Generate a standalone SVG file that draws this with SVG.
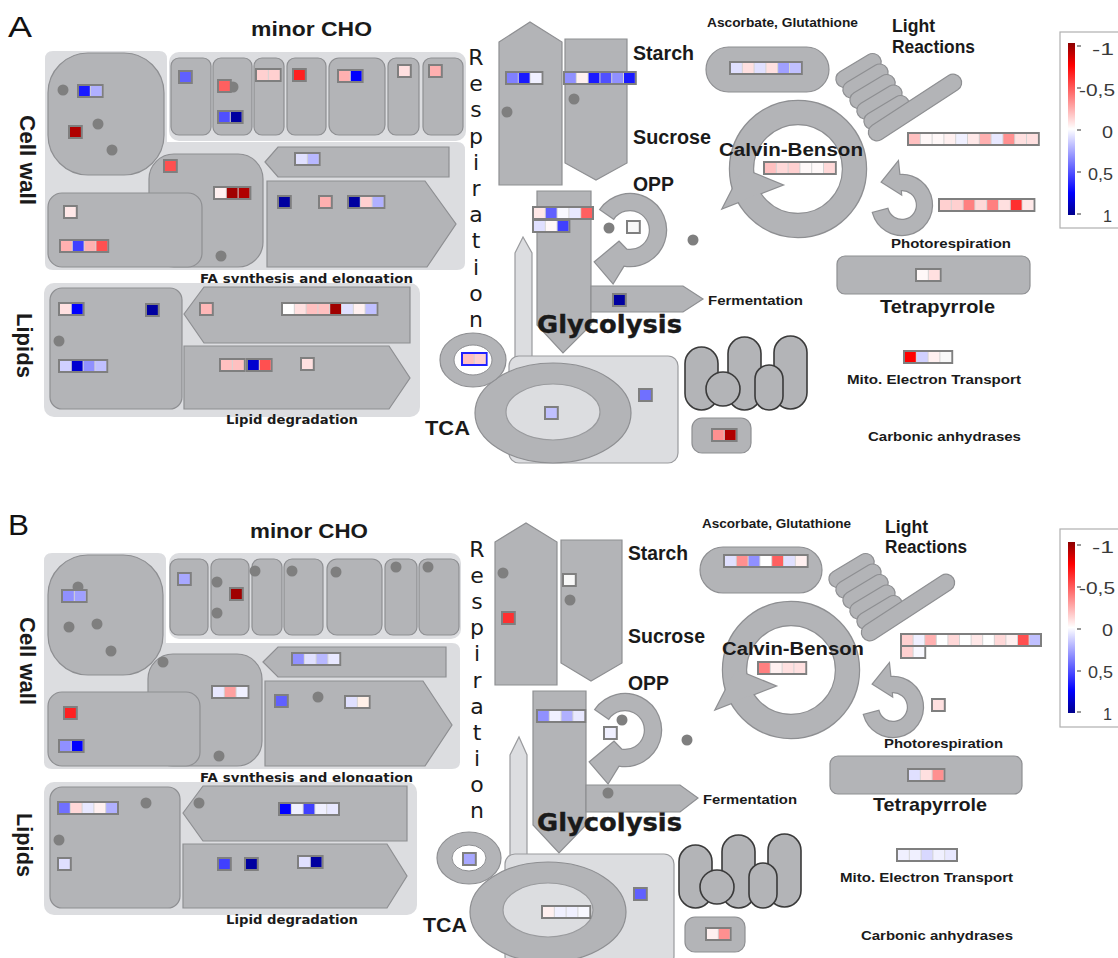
<svg xmlns="http://www.w3.org/2000/svg" xmlns:xlink="http://www.w3.org/1999/xlink" width="1118" height="958" viewBox="0 0 1118 958">
<style>
.bg{fill:#dcdde0}
.nd{fill:#b3b4b7;stroke:#8e8f92;stroke-width:1.2}
.lt{fill:#dcdde0;stroke:#9a9b9e;stroke-width:1.2}
.wh{fill:#ffffff;stroke:#8e8f92;stroke-width:1}
.dot{fill:#7f7f7f}
.mc{fill:#b3b4b7;stroke:#3a3a3a;stroke-width:1.6}
.strk{fill:#b3b4b7;stroke:#8e8f92;stroke-width:2.4}
.fl{fill:#b3b4b7;stroke:none}
.gb{fill:#7f7f7f}
.gbb{fill:#2020ff}
.gi{fill:#d4d4d4}
.t{font-family:"Liberation Sans",Arial,sans-serif;font-weight:bold;fill:#1a1a1a}
.v{font-family:"DejaVu Sans",Verdana,sans-serif;font-weight:bold;fill:#1a1a1a}
.r{font-family:"DejaVu Sans",Verdana,sans-serif;fill:#1a1a1a;font-size:22px}
.pl{font-family:"Liberation Sans",Arial,sans-serif;fill:#111;font-size:30px}
.lg{font-family:"Liberation Sans",Arial,sans-serif;fill:#3a3a3a;font-size:17px;text-anchor:end}
.tk{stroke:#555;stroke-width:1.2}
</style>
<defs>
<linearGradient id="grad" x1="0" y1="0" x2="0" y2="1">
<stop offset="0" stop-color="#8b0000"/><stop offset="0.13" stop-color="#ff0000"/><stop offset="0.5" stop-color="#ffffff"/><stop offset="0.87" stop-color="#0000ff"/><stop offset="1" stop-color="#00008b"/>
</linearGradient>
<path id="calvinRing" fill-rule="evenodd" d="M730,169 A68,68 0 1,0 866,169 A68,68 0 1,0 730,169 Z M753,169 A45,45 0 1,1 843,169 A45,45 0 1,1 753,169 Z"/>
<polygon id="calvinHead" points="723,208 743,169 782,185"/>
<path id="oppArrow" d="M600.5,209.4 A36,36 0 1,1 623.7,265.5 L613,283 L595,262 L619,242 L626.5,249.7 A20,20 0 1,0 613.6,218.5 Z"/>
<path id="prArrow" d="M873,212.8 A30,30 0 1,0 899.4,175.1 L898,162 L882,182 L901,194 L900.7,190.1 A15,15 0 1,1 887.5,208.9 Z"/>
<rect id="pill" x="-25" y="-8.5" width="50" height="17" rx="8.5"/>
<g id="coil" class="nd">
<use xlink:href="#pill" transform="translate(858.5,70.5) rotate(-31)"/>
<use xlink:href="#pill" transform="translate(865.5,81) rotate(-31)"/>
<use xlink:href="#pill" transform="translate(872.5,91.5) rotate(-31)"/>
<use xlink:href="#pill" transform="translate(879.5,102) rotate(-31)"/>
<use xlink:href="#pill" transform="translate(886.5,112.5) rotate(-31)"/>
<rect x="-54" y="-8.5" width="108" height="17" rx="8.5" transform="translate(915,107.5) rotate(-33)"/>
</g>
<g id="mito" class="mc">
<rect x="685" y="347" width="33" height="63" rx="16.5"/>
<rect x="728" y="337" width="33" height="73" rx="16.5"/>
<rect x="774" y="336" width="33" height="73" rx="16.5"/>
<circle cx="723" cy="389" r="17"/>
<rect x="755" y="365" width="28" height="45" rx="14"/>
</g>
</defs>
<rect width="1118" height="958" fill="#ffffff"/>

<!-- ================= PANEL A ================= -->
<g id="A">
<g id="A-label"><text class="pl" x="8" y="37" textLength="24" lengthAdjust="spacingAndGlyphs">A</text></g>

<g id="A-cellwall">
<path class="bg" d="M53,51 H159 Q167,51 167,59 V142 H457 Q465,142 465,150 V263 Q465,270 457,270 H53 Q45,270 45,263 V59 Q45,51 53,51 Z"/>
<rect class="nd" x="48" y="53" width="116" height="122" rx="40"/>
<circle class="dot" cx="63" cy="90" r="5.5"/><circle class="dot" cx="98" cy="124" r="5.5"/><circle class="dot" cx="112" cy="150" r="5.5"/>
<g transform="translate(77,84)"><rect class="gb" width="26.6" height="14"/><rect class="gi" x="2" y="2" width="22.6" height="10"/><rect x="2" y="2" width="10.8" height="10" fill="#1a1aff"/><rect x="13.8" y="2" width="10.8" height="10" fill="#b0b0ff"/></g>
<g transform="translate(68,125)"><rect class="gb" width="14.8" height="14"/><rect x="2" y="2" width="10.8" height="10" fill="#b00000"/></g>
<rect class="nd" x="149" y="154" width="114" height="113" rx="25"/>
<circle class="dot" cx="221" cy="256" r="5.5"/>
<g transform="translate(163,159)"><rect class="gb" width="14.8" height="14"/><rect x="2" y="2" width="10.8" height="10" fill="#ff5050"/></g>
<g transform="translate(213,186)"><rect class="gb" width="38.4" height="14"/><rect class="gi" x="2" y="2" width="34.4" height="10"/><rect x="2" y="2" width="10.8" height="10" fill="#fff0f0"/><rect x="13.8" y="2" width="10.8" height="10" fill="#a00000"/><rect x="25.6" y="2" width="10.8" height="10" fill="#b00000"/></g>
<rect class="nd" x="48" y="193" width="154" height="74" rx="14"/>
<g transform="translate(63,205)"><rect class="gb" width="14.8" height="14"/><rect x="2" y="2" width="10.8" height="10" fill="#ffe8e8"/></g>
<g transform="translate(59,239)"><rect class="gb" width="50.2" height="14"/><rect class="gi" x="2" y="2" width="46.2" height="10"/><rect x="2" y="2" width="10.8" height="10" fill="#ffb0b0"/><rect x="13.8" y="2" width="10.8" height="10" fill="#4040ff"/><rect x="25.6" y="2" width="10.8" height="10" fill="#ffb0b0"/><rect x="37.4" y="2" width="10.8" height="10" fill="#ff5050"/></g>
<polygon class="nd" points="265,162 278,147 449,147 449,177 278,177"/>
<g transform="translate(294,152)"><rect class="gb" width="26.6" height="14"/><rect class="gi" x="2" y="2" width="22.6" height="10"/><rect x="2" y="2" width="10.8" height="10" fill="#e0e0ff"/><rect x="13.8" y="2" width="10.8" height="10" fill="#b8b8ff"/></g>
<polygon class="nd" points="267,181 425,181 456,224 427,267 267,267"/>
<g transform="translate(277,195)"><rect class="gb" width="14.8" height="14"/><rect x="2" y="2" width="10.8" height="10" fill="#0000a0"/></g>
<g transform="translate(318,195)"><rect class="gb" width="14.8" height="14"/><rect x="2" y="2" width="10.8" height="10" fill="#ffb0b0"/></g>
<g transform="translate(347,195)"><rect class="gb" width="38.4" height="14"/><rect class="gi" x="2" y="2" width="34.4" height="10"/><rect x="2" y="2" width="10.8" height="10" fill="#0000a0"/><rect x="13.8" y="2" width="10.8" height="10" fill="#ffd0d0"/><rect x="25.6" y="2" width="10.8" height="10" fill="#b0b0ff"/></g>
<text class="t" transform="translate(20,115) rotate(90)" font-size="22" textLength="90" lengthAdjust="spacingAndGlyphs">Cell wall</text>
<text class="v" x="200" y="282.5" font-size="11.5" textLength="213" lengthAdjust="spacingAndGlyphs">FA synthesis and elongation</text>
</g>

<g id="A-minorCHO">
<rect class="bg" x="169" y="52" width="297" height="89" rx="10"/>
<rect class="nd" x="171" y="58" width="40" height="77" rx="8"/>
<rect class="nd" x="213" y="58" width="39" height="77" rx="8"/>
<rect class="nd" x="254" y="58" width="30" height="77" rx="8"/>
<rect class="nd" x="287" y="58" width="39" height="77" rx="8"/>
<rect class="nd" x="329" y="58" width="56" height="77" rx="10"/>
<rect class="nd" x="388" y="58" width="31" height="77" rx="8"/>
<rect class="nd" x="423" y="58" width="40" height="77" rx="8"/>
<g transform="translate(178,70)"><rect class="gb" width="14.8" height="14"/><rect x="2" y="2" width="10.8" height="10" fill="#6060ff"/></g>
<circle class="dot" cx="233" cy="87" r="5.5"/>
<g transform="translate(217,79)"><rect class="gb" width="14.8" height="14"/><rect x="2" y="2" width="10.8" height="10" fill="#ff6060"/></g>
<g transform="translate(217,110)"><rect class="gb" width="26.6" height="14"/><rect class="gi" x="2" y="2" width="22.6" height="10"/><rect x="2" y="2" width="10.8" height="10" fill="#5050ff"/><rect x="13.8" y="2" width="10.8" height="10" fill="#0000a0"/></g>
<g transform="translate(255,68)"><rect class="gb" width="26.6" height="14"/><rect class="gi" x="2" y="2" width="22.6" height="10"/><rect x="2" y="2" width="10.8" height="10" fill="#ffd0d0"/><rect x="13.8" y="2" width="10.8" height="10" fill="#ffd0d0"/></g>
<g transform="translate(292,68)"><rect class="gb" width="14.8" height="14"/><rect x="2" y="2" width="10.8" height="10" fill="#ff2020"/></g>
<g transform="translate(337,69)"><rect class="gb" width="26.6" height="14"/><rect class="gi" x="2" y="2" width="22.6" height="10"/><rect x="2" y="2" width="10.8" height="10" fill="#ffb0b0"/><rect x="13.8" y="2" width="10.8" height="10" fill="#0000ff"/></g>
<g transform="translate(397,64)"><rect class="gb" width="14.8" height="14"/><rect x="2" y="2" width="10.8" height="10" fill="#ffe0e0"/></g>
<g transform="translate(428,64)"><rect class="gb" width="14.8" height="14"/><rect x="2" y="2" width="10.8" height="10" fill="#ffb0b0"/></g>
<text class="t" x="251" y="36" font-size="19.5" textLength="121" lengthAdjust="spacingAndGlyphs">minor CHO</text>
</g>

<g id="A-lipids">
<rect class="bg" x="44" y="283" width="376" height="134" rx="10"/>
<rect class="nd" x="50" y="288" width="132" height="121" rx="12"/>
<circle class="dot" cx="59" cy="341" r="5.5"/>
<g transform="translate(58,302)"><rect class="gb" width="26.6" height="14"/><rect class="gi" x="2" y="2" width="22.6" height="10"/><rect x="2" y="2" width="10.8" height="10" fill="#ffe0e0"/><rect x="13.8" y="2" width="10.8" height="10" fill="#0000ff"/></g>
<g transform="translate(145,303)"><rect class="gb" width="14.8" height="14"/><rect x="2" y="2" width="10.8" height="10" fill="#0000a0"/></g>
<g transform="translate(58,359)"><rect class="gb" width="50.2" height="14"/><rect class="gi" x="2" y="2" width="46.2" height="10"/><rect x="2" y="2" width="10.8" height="10" fill="#d0d0ff"/><rect x="13.8" y="2" width="10.8" height="10" fill="#0000d0"/><rect x="25.6" y="2" width="10.8" height="10" fill="#9090ff"/><rect x="37.4" y="2" width="10.8" height="10" fill="#c0c0ff"/></g>
<polygon class="nd" points="184,314 204,287 410,287 410,343 204,343"/>
<g transform="translate(199,302)"><rect class="gb" width="14.8" height="14"/><rect x="2" y="2" width="10.8" height="10" fill="#ffb8b8"/></g>
<g transform="translate(281,302)"><rect class="gb" width="97.4" height="14"/><rect class="gi" x="2" y="2" width="93.4" height="10"/><rect x="2" y="2" width="10.8" height="10" fill="#ffffff"/><rect x="13.8" y="2" width="10.8" height="10" fill="#ffe0e0"/><rect x="25.6" y="2" width="10.8" height="10" fill="#ffc0c0"/><rect x="37.4" y="2" width="10.8" height="10" fill="#ffc0c0"/><rect x="49.2" y="2" width="10.8" height="10" fill="#a00000"/><rect x="61" y="2" width="10.8" height="10" fill="#e0e0ff"/><rect x="72.8" y="2" width="10.8" height="10" fill="#fff0f0"/><rect x="84.6" y="2" width="10.8" height="10" fill="#c0c0ff"/></g>
<polygon class="nd" points="184,346 389,346 410,378 389,409 184,409"/>
<g transform="translate(219,358)"><rect class="gb" width="26.6" height="14"/><rect class="gi" x="2" y="2" width="22.6" height="10"/><rect x="2" y="2" width="10.8" height="10" fill="#ffc0c0"/><rect x="13.8" y="2" width="10.8" height="10" fill="#ffc0c0"/></g>
<g transform="translate(246,358)"><rect class="gb" width="26.6" height="14"/><rect class="gi" x="2" y="2" width="22.6" height="10"/><rect x="2" y="2" width="10.8" height="10" fill="#0000d0"/><rect x="13.8" y="2" width="10.8" height="10" fill="#ff5050"/></g>
<g transform="translate(300,357)"><rect class="gb" width="14.8" height="14"/><rect x="2" y="2" width="10.8" height="10" fill="#ffe0e0"/></g>
<text class="t" transform="translate(17,313) rotate(90)" font-size="22" textLength="65" lengthAdjust="spacingAndGlyphs">Lipids</text>
<text class="v" x="226" y="424" font-size="12" textLength="132" lengthAdjust="spacingAndGlyphs">Lipid degradation</text>
</g>

<g id="A-respiration">
<text class="r" text-anchor="middle"><tspan x="476" y="65">R</tspan><tspan x="476" y="91.2">e</tspan><tspan x="476" y="117.4">s</tspan><tspan x="476" y="143.6">p</tspan><tspan x="476" y="169.8">i</tspan><tspan x="476" y="196">r</tspan><tspan x="476" y="222.2">a</tspan><tspan x="476" y="248.4">t</tspan><tspan x="476" y="274.6">i</tspan><tspan x="476" y="300.8">o</tspan><tspan x="476" y="327">n</tspan></text>
</g>

<g id="A-starch">
<polygon class="nd" points="499,42 530,22 562,42 562,185 499,185"/>
<circle class="dot" cx="507" cy="112" r="5.5"/>
<g transform="translate(505,71)"><rect class="gb" width="38.4" height="14"/><rect class="gi" x="2" y="2" width="34.4" height="10"/><rect x="2" y="2" width="10.8" height="10" fill="#8080ff"/><rect x="13.8" y="2" width="10.8" height="10" fill="#1a1aff"/><rect x="25.6" y="2" width="10.8" height="10" fill="#f0f0ff"/></g>
<text class="t" x="633" y="60" font-size="20" textLength="61" lengthAdjust="spacingAndGlyphs">Starch</text>
</g>
<g id="A-sucrose">
<polygon class="nd" points="565,39 627,39 627,163 596,180 565,163"/>
<circle class="dot" cx="574" cy="99" r="5.5"/>
<g transform="translate(563,71)"><rect class="gb" width="73.8" height="14"/><rect class="gi" x="2" y="2" width="69.8" height="10"/><rect x="2" y="2" width="10.8" height="10" fill="#9090ff"/><rect x="13.8" y="2" width="10.8" height="10" fill="#fff0f0"/><rect x="25.6" y="2" width="10.8" height="10" fill="#1a1aff"/><rect x="37.4" y="2" width="10.8" height="10" fill="#5050ff"/><rect x="49.2" y="2" width="10.8" height="10" fill="#9090ff"/><rect x="61" y="2" width="10.8" height="10" fill="#1a1aff"/></g>
<text class="t" x="633" y="144" font-size="20" textLength="78" lengthAdjust="spacingAndGlyphs">Sucrose</text>
</g>

<g id="A-tca">
<polygon class="lt" points="515,253 523,237 532,253 532,360 515,360"/>
<rect class="lt" x="509" y="356" width="169" height="107" rx="10"/>
<ellipse class="nd" cx="553" cy="413" rx="78" ry="50"/>
<ellipse class="lt" cx="553" cy="412" rx="47" ry="28"/>
<g transform="translate(544,406)"><rect class="gb" width="14.8" height="14"/><rect x="2" y="2" width="10.8" height="10" fill="#c0c0ff"/></g>
<g transform="translate(638,388)"><rect class="gb" width="14.8" height="14"/><rect x="2" y="2" width="10.8" height="10" fill="#7070ff"/></g>
<ellipse class="nd" cx="473" cy="360" rx="33" ry="27"/>
<ellipse class="wh" cx="473" cy="360" rx="19" ry="15"/>
<g transform="translate(461,352)"><rect class="gbb" width="26.6" height="14"/><rect class="gi" x="2" y="2" width="22.6" height="10"/><rect x="2" y="2" width="10.8" height="10" fill="#ffc0c0"/><rect x="13.8" y="2" width="10.8" height="10" fill="#ffd0d0"/></g>
<text class="t" x="425" y="435" font-size="20" textLength="45" lengthAdjust="spacingAndGlyphs">TCA</text>
</g>

<g id="A-glycolysis">
<polygon class="nd" points="537,191 591,191 591,325 563,353 537,325"/>
<g transform="translate(532,206)"><rect class="gb" width="62" height="14"/><rect class="gi" x="2" y="2" width="58" height="10"/><rect x="2" y="2" width="10.8" height="10" fill="#ffe8e8"/><rect x="13.8" y="2" width="10.8" height="10" fill="#6060ff"/><rect x="25.6" y="2" width="10.8" height="10" fill="#f8f8ff"/><rect x="37.4" y="2" width="10.8" height="10" fill="#e8e8ff"/><rect x="49.2" y="2" width="10.8" height="10" fill="#ff6060"/></g>
<g transform="translate(532,219)"><rect class="gb" width="38.4" height="14"/><rect class="gi" x="2" y="2" width="34.4" height="10"/><rect x="2" y="2" width="10.8" height="10" fill="#e0e0ff"/><rect x="13.8" y="2" width="10.8" height="10" fill="#fff8f8"/><rect x="25.6" y="2" width="10.8" height="10" fill="#4040ff"/></g>
<text class="v" x="537" y="333" font-size="25" textLength="145" lengthAdjust="spacingAndGlyphs" stroke="#1a1a1a" stroke-width="0.4">Glycolysis</text>
</g>

<g id="A-fermentation">
<polygon class="nd" points="591,286 683,286 703,299 683,312 591,312"/>
<g transform="translate(612,293)"><rect class="gb" width="14.8" height="14"/><rect x="2" y="2" width="10.8" height="10" fill="#0000a0"/></g>
<text class="t" x="708" y="305" font-size="13" textLength="95" lengthAdjust="spacingAndGlyphs">Fermentation</text>
</g>

<g id="A-opp">
<use xlink:href="#oppArrow" class="strk"/><use xlink:href="#oppArrow" class="fl"/>
<circle class="dot" cx="609" cy="228" r="5.5"/><circle class="dot" cx="693" cy="240" r="5.5"/>
<g transform="translate(626,220)"><rect class="gb" width="14.8" height="14"/><rect x="2" y="2" width="10.8" height="10" fill="#f8f8f8"/></g>
<text class="t" x="633" y="191" font-size="20" textLength="41" lengthAdjust="spacingAndGlyphs">OPP</text>
</g>

<g id="A-ascorbate">
<rect class="nd" x="706" y="47" width="123" height="45" rx="22.5"/>
<g transform="translate(729,61)"><rect class="gb" width="73.8" height="14"/><rect class="gi" x="2" y="2" width="69.8" height="10"/><rect x="2" y="2" width="10.8" height="10" fill="#e0e0ff"/><rect x="13.8" y="2" width="10.8" height="10" fill="#ffe0e0"/><rect x="25.6" y="2" width="10.8" height="10" fill="#e0e0ff"/><rect x="37.4" y="2" width="10.8" height="10" fill="#ffe0e0"/><rect x="49.2" y="2" width="10.8" height="10" fill="#a0a0ff"/><rect x="61" y="2" width="10.8" height="10" fill="#c0c0ff"/></g>
<text class="t" x="707" y="27" font-size="12" textLength="151" lengthAdjust="spacingAndGlyphs">Ascorbate, Glutathione</text>
</g>

<g id="A-light">
<use xlink:href="#coil"/>
<g transform="translate(907,132)"><rect class="gb" width="132.8" height="14"/><rect class="gi" x="2" y="2" width="128.8" height="10"/><rect x="2" y="2" width="10.8" height="10" fill="#ffc0c0"/><rect x="13.8" y="2" width="10.8" height="10" fill="#fff8f8"/><rect x="25.6" y="2" width="10.8" height="10" fill="#fff8f8"/><rect x="37.4" y="2" width="10.8" height="10" fill="#fff0f0"/><rect x="49.2" y="2" width="10.8" height="10" fill="#f0f0ff"/><rect x="61" y="2" width="10.8" height="10" fill="#ffe8e8"/><rect x="72.8" y="2" width="10.8" height="10" fill="#ffb0b0"/><rect x="84.6" y="2" width="10.8" height="10" fill="#e8e8ff"/><rect x="96.4" y="2" width="10.8" height="10" fill="#ff9090"/><rect x="108.2" y="2" width="10.8" height="10" fill="#ffe0e0"/><rect x="120" y="2" width="10.8" height="10" fill="#ffe0e0"/></g>
<text class="t" x="892" y="32" font-size="17.5" textLength="43" lengthAdjust="spacingAndGlyphs">Light</text>
<text class="t" x="892" y="53" font-size="17.5" textLength="83" lengthAdjust="spacingAndGlyphs">Reactions</text>
</g>

<g id="A-calvin">
<use xlink:href="#calvinRing" class="strk"/><use xlink:href="#calvinHead" class="strk"/>
<use xlink:href="#calvinRing" class="fl"/><use xlink:href="#calvinHead" class="fl"/>
<text class="t" x="719" y="156" font-size="18" textLength="144" lengthAdjust="spacingAndGlyphs">Calvin-Benson</text>
<g transform="translate(763,161)"><rect class="gb" width="73.8" height="14"/><rect class="gi" x="2" y="2" width="69.8" height="10"/><rect x="2" y="2" width="10.8" height="10" fill="#ffc0c0"/><rect x="13.8" y="2" width="10.8" height="10" fill="#ffd8d8"/><rect x="25.6" y="2" width="10.8" height="10" fill="#ffd0d0"/><rect x="37.4" y="2" width="10.8" height="10" fill="#fff8f8"/><rect x="49.2" y="2" width="10.8" height="10" fill="#fff8f8"/><rect x="61" y="2" width="10.8" height="10" fill="#ffd8d8"/></g>
</g>

<g id="A-photorespiration">
<use xlink:href="#prArrow" class="strk"/><use xlink:href="#prArrow" class="fl"/>
<g transform="translate(938,198)"><rect class="gb" width="97.4" height="14"/><rect class="gi" x="2" y="2" width="93.4" height="10"/><rect x="2" y="2" width="10.8" height="10" fill="#ffd0d0"/><rect x="13.8" y="2" width="10.8" height="10" fill="#ffd0d0"/><rect x="25.6" y="2" width="10.8" height="10" fill="#ff8080"/><rect x="37.4" y="2" width="10.8" height="10" fill="#ffd8d8"/><rect x="49.2" y="2" width="10.8" height="10" fill="#ff8080"/><rect x="61" y="2" width="10.8" height="10" fill="#ffe0e0"/><rect x="72.8" y="2" width="10.8" height="10" fill="#ff3030"/><rect x="84.6" y="2" width="10.8" height="10" fill="#ffe8e8"/></g>
<text class="t" x="891" y="248" font-size="13" textLength="120" lengthAdjust="spacingAndGlyphs">Photorespiration</text>
</g>

<g id="A-tetrapyrrole">
<rect class="nd" x="837" y="256" width="193" height="38" rx="8"/>
<g transform="translate(915,268)"><rect class="gb" width="26.6" height="14"/><rect class="gi" x="2" y="2" width="22.6" height="10"/><rect x="2" y="2" width="10.8" height="10" fill="#fff8f8"/><rect x="13.8" y="2" width="10.8" height="10" fill="#ffe0e0"/></g>
<text class="t" x="880" y="313" font-size="19" textLength="115" lengthAdjust="spacingAndGlyphs">Tetrapyrrole</text>
</g>

<g id="A-mito">
<use xlink:href="#mito"/>
<g transform="translate(903,350)"><rect class="gb" width="50.2" height="14"/><rect class="gi" x="2" y="2" width="46.2" height="10"/><rect x="2" y="2" width="10.8" height="10" fill="#ff0000"/><rect x="13.8" y="2" width="10.8" height="10" fill="#d0d0ff"/><rect x="25.6" y="2" width="10.8" height="10" fill="#fff0f0"/><rect x="37.4" y="2" width="10.8" height="10" fill="#f8f8f8"/></g>
<text class="t" x="847" y="384" font-size="13.5" textLength="174" lengthAdjust="spacingAndGlyphs">Mito. Electron Transport</text>
</g>

<g id="A-carbonic">
<rect class="nd" x="692" y="418" width="59" height="35" rx="10"/>
<g transform="translate(711,428)"><rect class="gb" width="26.6" height="14"/><rect class="gi" x="2" y="2" width="22.6" height="10"/><rect x="2" y="2" width="10.8" height="10" fill="#ff9090"/><rect x="13.8" y="2" width="10.8" height="10" fill="#b00000"/></g>
<text class="t" x="868" y="441" font-size="13.5" textLength="153" lengthAdjust="spacingAndGlyphs">Carbonic anhydrases</text>
</g>

<g id="A-legend">
<rect x="1060" y="32" width="70" height="196" fill="#ffffff" stroke="#b0b0b0" stroke-width="1.2"/>
<rect x="1068" y="43" width="7" height="172" fill="url(#grad)"/>
<line class="tk" x1="1077" y1="46" x2="1081" y2="46"/><line class="tk" x1="1077" y1="88" x2="1081" y2="88"/><line class="tk" x1="1077" y1="130" x2="1081" y2="130"/><line class="tk" x1="1077" y1="172" x2="1081" y2="172"/><line class="tk" x1="1077" y1="214" x2="1081" y2="214"/>
<text class="lg" x="1114" y="55" textLength="22" lengthAdjust="spacingAndGlyphs">-1</text><text class="lg" x="1115" y="96" textLength="36" lengthAdjust="spacingAndGlyphs">-0,5</text><text class="lg" x="1113" y="138" textLength="11" lengthAdjust="spacingAndGlyphs">0</text><text class="lg" x="1113" y="180" textLength="25" lengthAdjust="spacingAndGlyphs">0,5</text><text class="lg" x="1112" y="222" textLength="9" lengthAdjust="spacingAndGlyphs">1</text>
</g>
</g>

<!-- ================= PANEL B ================= -->
<g id="B">
<g id="B-label"><text class="pl" x="8" y="535" textLength="21" lengthAdjust="spacingAndGlyphs">B</text></g>

<g id="B-cellwall">
<path class="bg" d="M52,553 H158 Q166,553 166,561 V643 H452 Q460,643 460,651 V762 Q460,769 452,769 H52 Q44,769 44,762 V561 Q44,553 52,553 Z"/>
<rect class="nd" x="48" y="555" width="115" height="120" rx="40"/>
<circle class="dot" cx="78" cy="587" r="5.5"/>
<g transform="translate(61,589)"><rect class="gb" width="26.6" height="14"/><rect class="gi" x="2" y="2" width="22.6" height="10"/><rect x="2" y="2" width="10.8" height="10" fill="#9090ff"/><rect x="13.8" y="2" width="10.8" height="10" fill="#a0a0ff"/></g>
<circle class="dot" cx="69" cy="627" r="5.5"/><circle class="dot" cx="97" cy="624" r="5.5"/><circle class="dot" cx="111" cy="651" r="5.5"/>
<rect class="nd" x="148" y="654" width="114" height="112" rx="25"/>
<circle class="dot" cx="163" cy="662" r="5.5"/><circle class="dot" cx="219" cy="756" r="5.5"/>
<g transform="translate(211,685)"><rect class="gb" width="38.4" height="14"/><rect class="gi" x="2" y="2" width="34.4" height="10"/><rect x="2" y="2" width="10.8" height="10" fill="#e8e8ff"/><rect x="13.8" y="2" width="10.8" height="10" fill="#ffa0a0"/><rect x="25.6" y="2" width="10.8" height="10" fill="#f0f0ff"/></g>
<rect class="nd" x="48" y="692" width="152" height="74" rx="14"/>
<g transform="translate(63,706)"><rect class="gb" width="14.8" height="14"/><rect x="2" y="2" width="10.8" height="10" fill="#ff2020"/></g>
<g transform="translate(58,739)"><rect class="gb" width="26.6" height="14"/><rect class="gi" x="2" y="2" width="22.6" height="10"/><rect x="2" y="2" width="10.8" height="10" fill="#9090ff"/><rect x="13.8" y="2" width="10.8" height="10" fill="#0000ff"/></g>
<polygon class="nd" points="263,662 278,647 446,647 446,677 278,677"/>
<g transform="translate(291,652)"><rect class="gb" width="50.2" height="14"/><rect class="gi" x="2" y="2" width="46.2" height="10"/><rect x="2" y="2" width="10.8" height="10" fill="#9090ff"/><rect x="13.8" y="2" width="10.8" height="10" fill="#e0e0ff"/><rect x="25.6" y="2" width="10.8" height="10" fill="#b8b8ff"/><rect x="37.4" y="2" width="10.8" height="10" fill="#e8e8ff"/></g>
<polygon class="nd" points="265,681 423,681 452,725 425,766 265,766"/>
<g transform="translate(274,694)"><rect class="gb" width="14.8" height="14"/><rect x="2" y="2" width="10.8" height="10" fill="#6060ff"/></g>
<circle class="dot" cx="318" cy="697" r="5.5"/>
<g transform="translate(344,695)"><rect class="gb" width="26.6" height="14"/><rect class="gi" x="2" y="2" width="22.6" height="10"/><rect x="2" y="2" width="10.8" height="10" fill="#e0e0ff"/><rect x="13.8" y="2" width="10.8" height="10" fill="#fff0e8"/></g>
<text class="t" transform="translate(20,617) rotate(90)" font-size="22" textLength="88" lengthAdjust="spacingAndGlyphs">Cell wall</text>
<text class="v" x="200" y="781.5" font-size="11.5" textLength="213" lengthAdjust="spacingAndGlyphs">FA synthesis and elongation</text>
</g>

<g id="B-minorCHO">
<rect class="bg" x="169" y="553" width="292" height="86" rx="10"/>
<rect class="nd" x="170" y="559" width="38" height="76" rx="8"/>
<rect class="nd" x="211" y="559" width="38" height="76" rx="8"/>
<rect class="nd" x="252" y="559" width="30" height="76" rx="8"/>
<rect class="nd" x="284" y="559" width="39" height="76" rx="8"/>
<rect class="nd" x="327" y="559" width="55" height="76" rx="10"/>
<rect class="nd" x="385" y="559" width="32" height="76" rx="8"/>
<rect class="nd" x="419" y="559" width="40" height="76" rx="8"/>
<g transform="translate(177,572)"><rect class="gb" width="14.8" height="14"/><rect x="2" y="2" width="10.8" height="10" fill="#a8a8ff"/></g>
<circle class="dot" cx="217" cy="582" r="5.5"/><circle class="dot" cx="217" cy="613" r="5.5"/>
<g transform="translate(229,587)"><rect class="gb" width="14.8" height="14"/><rect x="2" y="2" width="10.8" height="10" fill="#a00000"/></g>
<circle class="dot" cx="255" cy="571" r="5.5"/><circle class="dot" cx="292" cy="571" r="5.5"/><circle class="dot" cx="336" cy="572" r="5.5"/><circle class="dot" cx="396" cy="567" r="5.5"/><circle class="dot" cx="428" cy="567" r="5.5"/>
<text class="t" x="250" y="538" font-size="19.5" textLength="118" lengthAdjust="spacingAndGlyphs">minor CHO</text>
</g>

<g id="B-lipids">
<rect class="bg" x="44" y="782" width="373" height="133" rx="10"/>
<rect class="nd" x="50" y="787" width="130" height="121" rx="12"/>
<g transform="translate(57,801)"><rect class="gb" width="62" height="14"/><rect class="gi" x="2" y="2" width="58" height="10"/><rect x="2" y="2" width="10.8" height="10" fill="#7070ff"/><rect x="13.8" y="2" width="10.8" height="10" fill="#ffd8d8"/><rect x="25.6" y="2" width="10.8" height="10" fill="#e8e8ff"/><rect x="37.4" y="2" width="10.8" height="10" fill="#fff0f0"/><rect x="49.2" y="2" width="10.8" height="10" fill="#b0b0ff"/></g>
<circle class="dot" cx="146" cy="803" r="5.5"/><circle class="dot" cx="59" cy="840" r="5.5"/>
<g transform="translate(57,857)"><rect class="gb" width="14.8" height="14"/><rect x="2" y="2" width="10.8" height="10" fill="#e0e0ff"/></g>
<polygon class="nd" points="183,813 203,786 407,786 407,841 203,841"/>
<circle class="dot" cx="199" cy="803" r="5.5"/>
<g transform="translate(278,802)"><rect class="gb" width="62" height="14"/><rect class="gi" x="2" y="2" width="58" height="10"/><rect x="2" y="2" width="10.8" height="10" fill="#0000ff"/><rect x="13.8" y="2" width="10.8" height="10" fill="#f0f0ff"/><rect x="25.6" y="2" width="10.8" height="10" fill="#4040ff"/><rect x="37.4" y="2" width="10.8" height="10" fill="#f0f0ff"/><rect x="49.2" y="2" width="10.8" height="10" fill="#e8e8ff"/></g>
<polygon class="nd" points="183,844 387,844 407,876 387,908 183,908"/>
<g transform="translate(217,857)"><rect class="gb" width="14.8" height="14"/><rect x="2" y="2" width="10.8" height="10" fill="#4040ff"/></g>
<g transform="translate(244,857)"><rect class="gb" width="14.8" height="14"/><rect x="2" y="2" width="10.8" height="10" fill="#0000a0"/></g>
<g transform="translate(297,855)"><rect class="gb" width="26.6" height="14"/><rect class="gi" x="2" y="2" width="22.6" height="10"/><rect x="2" y="2" width="10.8" height="10" fill="#e0e0ff"/><rect x="13.8" y="2" width="10.8" height="10" fill="#0000a0"/></g>
<text class="t" transform="translate(17,813) rotate(90)" font-size="22" textLength="64" lengthAdjust="spacingAndGlyphs">Lipids</text>
<text class="v" x="226" y="924" font-size="12" textLength="132" lengthAdjust="spacingAndGlyphs">Lipid degradation</text>
</g>

<g id="B-respiration">
<text class="r" text-anchor="middle"><tspan x="477" y="557">R</tspan><tspan x="477" y="583.1">e</tspan><tspan x="477" y="609.2">s</tspan><tspan x="477" y="635.3">p</tspan><tspan x="477" y="661.4">i</tspan><tspan x="477" y="687.5">r</tspan><tspan x="477" y="713.6">a</tspan><tspan x="477" y="739.7">t</tspan><tspan x="477" y="765.8">i</tspan><tspan x="477" y="791.9">o</tspan><tspan x="477" y="818">n</tspan></text>
</g>

<g id="B-starch">
<polygon class="nd" points="495,542 526,523 557,542 557,685 495,685"/>
<circle class="dot" cx="503" cy="573" r="5.5"/>
<g transform="translate(501,611)"><rect class="gb" width="14.8" height="14"/><rect x="2" y="2" width="10.8" height="10" fill="#ff3030"/></g>
<text class="t" x="628" y="560" font-size="20" textLength="60" lengthAdjust="spacingAndGlyphs">Starch</text>
</g>
<g id="B-sucrose">
<polygon class="nd" points="561,540 622,540 622,663 591,681 561,663"/>
<g transform="translate(562,573)"><rect class="gb" width="14.8" height="14"/><rect x="2" y="2" width="10.8" height="10" fill="#f8f8f8"/></g>
<circle class="dot" cx="570" cy="600" r="5.5"/>
<text class="t" x="628" y="643" font-size="20" textLength="77" lengthAdjust="spacingAndGlyphs">Sucrose</text>
</g>

<g id="B-tca">
<polygon class="lt" points="510,755 519,737 527,755 527,858 510,858"/>
<rect class="lt" x="505" y="854" width="169" height="112" rx="10"/>
<ellipse class="nd" cx="548" cy="912" rx="78" ry="50"/>
<ellipse class="lt" cx="548" cy="910" rx="45" ry="27"/>
<g transform="translate(541,905)"><rect class="gb" width="50.2" height="14"/><rect class="gi" x="2" y="2" width="46.2" height="10"/><rect x="2" y="2" width="10.8" height="10" fill="#fff0f0"/><rect x="13.8" y="2" width="10.8" height="10" fill="#f0f0ff"/><rect x="25.6" y="2" width="10.8" height="10" fill="#f0f0ff"/><rect x="37.4" y="2" width="10.8" height="10" fill="#f8f8ff"/></g>
<g transform="translate(633,887)"><rect class="gb" width="14.8" height="14"/><rect x="2" y="2" width="10.8" height="10" fill="#6060ff"/></g>
<ellipse class="nd" cx="469" cy="858" rx="32" ry="26"/>
<ellipse class="wh" cx="469" cy="858" rx="17" ry="13"/>
<g transform="translate(462,852)"><rect class="gb" width="14.8" height="14"/><rect x="2" y="2" width="10.8" height="10" fill="#a8a8ff"/></g>
<text class="t" x="423" y="932" font-size="20" textLength="44" lengthAdjust="spacingAndGlyphs">TCA</text>
</g>

<g id="B-glycolysis">
<polygon class="nd" points="533,691 586,691 586,825 559,853 533,825"/>
<g transform="translate(536,709)"><rect class="gb" width="50.2" height="14"/><rect class="gi" x="2" y="2" width="46.2" height="10"/><rect x="2" y="2" width="10.8" height="10" fill="#9090ff"/><rect x="13.8" y="2" width="10.8" height="10" fill="#f0f0ff"/><rect x="25.6" y="2" width="10.8" height="10" fill="#b0b0ff"/><rect x="37.4" y="2" width="10.8" height="10" fill="#e8e8ff"/></g>
<text class="v" x="537" y="831" font-size="25" textLength="145" lengthAdjust="spacingAndGlyphs" stroke="#1a1a1a" stroke-width="0.4">Glycolysis</text>
</g>

<g id="B-fermentation">
<polygon class="nd" points="586,785 680,785 698,798 680,812 586,812"/>
<circle class="dot" cx="608" cy="793" r="5.5"/>
<text class="t" x="703" y="804" font-size="13" textLength="94" lengthAdjust="spacingAndGlyphs">Fermentation</text>
</g>

<g id="B-opp">
<g transform="translate(-5,500)"><use xlink:href="#oppArrow" class="strk"/><use xlink:href="#oppArrow" class="fl"/></g>
<circle class="dot" cx="622" cy="720" r="5.5"/><circle class="dot" cx="687" cy="740" r="5.5"/>
<g transform="translate(603,726)"><rect class="gb" width="14.8" height="14"/><rect x="2" y="2" width="10.8" height="10" fill="#f0f0ff"/></g>
<text class="t" x="628" y="690" font-size="20" textLength="41" lengthAdjust="spacingAndGlyphs">OPP</text>
</g>

<g id="B-ascorbate">
<rect class="nd" x="700" y="547" width="122" height="46" rx="23"/>
<g transform="translate(723,554)"><rect class="gb" width="85.6" height="14"/><rect class="gi" x="2" y="2" width="81.6" height="10"/><rect x="2" y="2" width="10.8" height="10" fill="#e0e0ff"/><rect x="13.8" y="2" width="10.8" height="10" fill="#ff9090"/><rect x="25.6" y="2" width="10.8" height="10" fill="#9090ff"/><rect x="37.4" y="2" width="10.8" height="10" fill="#ffffff"/><rect x="49.2" y="2" width="10.8" height="10" fill="#ff6060"/><rect x="61" y="2" width="10.8" height="10" fill="#e0e0ff"/><rect x="72.8" y="2" width="10.8" height="10" fill="#fff0f0"/></g>
<text class="t" x="702" y="528" font-size="12" textLength="149" lengthAdjust="spacingAndGlyphs">Ascorbate, Glutathione</text>
</g>

<g id="B-light">
<use xlink:href="#coil" transform="translate(-7,500)"/>
<g transform="translate(900,633)"><rect class="gb" width="142" height="14"/><rect class="gi" x="2" y="2" width="138" height="10"/><rect x="2" y="2" width="10.6" height="10" fill="#ffd0d0"/><rect x="13.6" y="2" width="10.6" height="10" fill="#f0f0ff"/><rect x="25.2" y="2" width="10.6" height="10" fill="#ffb0b0"/><rect x="36.8" y="2" width="10.6" height="10" fill="#ffffff"/><rect x="48.4" y="2" width="10.6" height="10" fill="#ffd8d8"/><rect x="60" y="2" width="10.6" height="10" fill="#ffffff"/><rect x="71.6" y="2" width="10.6" height="10" fill="#ffe8e8"/><rect x="83.2" y="2" width="10.6" height="10" fill="#ffffff"/><rect x="94.8" y="2" width="10.6" height="10" fill="#ffd8d8"/><rect x="106.4" y="2" width="10.6" height="10" fill="#fff0f0"/><rect x="118" y="2" width="10.6" height="10" fill="#ff5050"/><rect x="129.6" y="2" width="10.4" height="10" fill="#c0c0ff"/></g>
<g transform="translate(900,645)"><rect class="gb" width="26.2" height="14"/><rect class="gi" x="2" y="2" width="22.2" height="10"/><rect x="2" y="2" width="10.6" height="10" fill="#ffd0d0"/><rect x="13.6" y="2" width="10.6" height="10" fill="#f8f8ff"/></g>
<text class="t" x="885" y="533" font-size="17.5" textLength="43" lengthAdjust="spacingAndGlyphs">Light</text>
<text class="t" x="885" y="553" font-size="17.5" textLength="82" lengthAdjust="spacingAndGlyphs">Reactions</text>
</g>

<g id="B-calvin">
<g transform="translate(-7,501)">
<use xlink:href="#calvinRing" class="strk"/><use xlink:href="#calvinHead" class="strk"/>
<use xlink:href="#calvinRing" class="fl"/><use xlink:href="#calvinHead" class="fl"/>
</g>
<text class="t" x="722" y="655" font-size="18" textLength="142" lengthAdjust="spacingAndGlyphs">Calvin-Benson</text>
<g transform="translate(757,661)"><rect class="gb" width="50.2" height="14"/><rect class="gi" x="2" y="2" width="46.2" height="10"/><rect x="2" y="2" width="10.8" height="10" fill="#ff8080"/><rect x="13.8" y="2" width="10.8" height="10" fill="#fff0f0"/><rect x="25.6" y="2" width="10.8" height="10" fill="#ffe0e0"/><rect x="37.4" y="2" width="10.8" height="10" fill="#ffe0e0"/></g>
</g>

<g id="B-photorespiration">
<g transform="translate(-9,502)"><use xlink:href="#prArrow" class="strk"/><use xlink:href="#prArrow" class="fl"/></g>
<g transform="translate(931,698)"><rect class="gb" width="14.8" height="14"/><rect x="2" y="2" width="10.8" height="10" fill="#ffe0e0"/></g>
<text class="t" x="884" y="748" font-size="13" textLength="119" lengthAdjust="spacingAndGlyphs">Photorespiration</text>
</g>

<g id="B-tetrapyrrole">
<rect class="nd" x="830" y="756" width="192" height="38" rx="8"/>
<g transform="translate(907,768)"><rect class="gb" width="38.4" height="14"/><rect class="gi" x="2" y="2" width="34.4" height="10"/><rect x="2" y="2" width="10.8" height="10" fill="#e0e0ff"/><rect x="13.8" y="2" width="10.8" height="10" fill="#ffe0e0"/><rect x="25.6" y="2" width="10.8" height="10" fill="#ff9090"/></g>
<text class="t" x="873" y="811" font-size="19" textLength="114" lengthAdjust="spacingAndGlyphs">Tetrapyrrole</text>
</g>

<g id="B-mito">
<use xlink:href="#mito" transform="translate(-6,498)"/>
<g transform="translate(896,848)"><rect class="gb" width="62" height="14"/><rect class="gi" x="2" y="2" width="58" height="10"/><rect x="2" y="2" width="10.8" height="10" fill="#f0f0ff"/><rect x="13.8" y="2" width="10.8" height="10" fill="#f0f0ff"/><rect x="25.6" y="2" width="10.8" height="10" fill="#d8d8ff"/><rect x="37.4" y="2" width="10.8" height="10" fill="#f0f0ff"/><rect x="49.2" y="2" width="10.8" height="10" fill="#e8e8ff"/></g>
<text class="t" x="840" y="882" font-size="13.5" textLength="173" lengthAdjust="spacingAndGlyphs">Mito. Electron Transport</text>
</g>

<g id="B-carbonic">
<rect class="nd" x="685" y="917" width="60" height="35" rx="10"/>
<g transform="translate(705,927)"><rect class="gb" width="26.6" height="14"/><rect class="gi" x="2" y="2" width="22.6" height="10"/><rect x="2" y="2" width="10.8" height="10" fill="#fff0f0"/><rect x="13.8" y="2" width="10.8" height="10" fill="#ff9090"/></g>
<text class="t" x="861" y="940" font-size="13.5" textLength="152" lengthAdjust="spacingAndGlyphs">Carbonic anhydrases</text>
</g>

<g id="B-legend">
<rect x="1060" y="529" width="70" height="198" fill="#ffffff" stroke="#b0b0b0" stroke-width="1.2"/>
<rect x="1068" y="542" width="7" height="171" fill="url(#grad)"/>
<line class="tk" x1="1077" y1="545" x2="1081" y2="545"/><line class="tk" x1="1077" y1="587" x2="1081" y2="587"/><line class="tk" x1="1077" y1="629" x2="1081" y2="629"/><line class="tk" x1="1077" y1="671" x2="1081" y2="671"/><line class="tk" x1="1077" y1="712" x2="1081" y2="712"/>
<text class="lg" x="1114" y="553" textLength="22" lengthAdjust="spacingAndGlyphs">-1</text><text class="lg" x="1115" y="594" textLength="36" lengthAdjust="spacingAndGlyphs">-0,5</text><text class="lg" x="1113" y="636" textLength="11" lengthAdjust="spacingAndGlyphs">0</text><text class="lg" x="1113" y="678" textLength="25" lengthAdjust="spacingAndGlyphs">0,5</text><text class="lg" x="1112" y="720" textLength="9" lengthAdjust="spacingAndGlyphs">1</text>
</g>
</g>
</svg>
